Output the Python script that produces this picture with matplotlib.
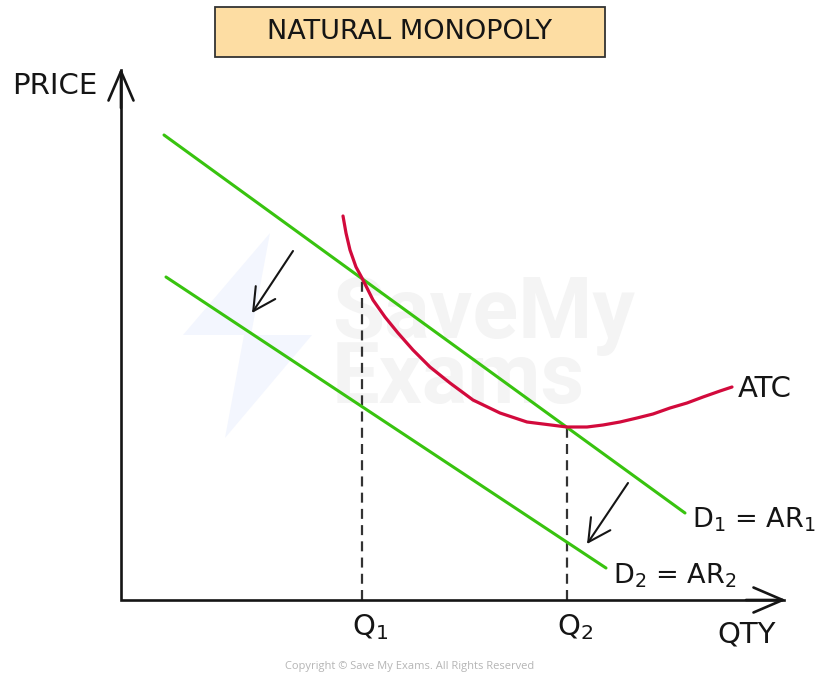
import matplotlib
matplotlib.use("Agg")
import matplotlib.pyplot as plt
from matplotlib.patches import Rectangle, Polygon

plt.rcParams['font.family'] = ['DejaVu Sans']
plt.rcParams['mathtext.default'] = 'regular'

# ---- data (arbitrary units; origin at the axes corner) ----
title = "NATURAL MONOPOLY"
x_label = "QTY"
y_label = "PRICE"
axis_x_end = 665
axis_y_end = 532

d1_x = [43, 564]
d1_y = [465, 87]
d2_x = [45, 485]
d2_y = [323, 32]

atc_x = [222, 225, 229, 235, 241, 252, 264, 277, 292, 309, 329, 352, 379, 406,
         422, 446, 466, 482, 499, 516, 532, 549, 566, 582, 599, 611]
atc_y = [384, 367, 350, 333, 322, 300, 283, 267, 250, 233, 217, 200, 187, 178,
         176, 173, 173, 175, 178, 182, 186, 192, 197, 203, 209, 213]

q_values = [241, 446]
q_prices = [322, 173]
q_labels = ["Q$_1$", "Q$_2$"]

shift_arrows = [((172, 349), (131, 287)), ((507, 117), (466, 56))]

d1_label = "D$_1$ = AR$_1$"
d2_label = "D$_2$ = AR$_2$"
atc_label = "ATC"
copyright_text = "Copyright \u00a9 Save My Exams. All Rights Reserved"
watermark = "SaveMy\nExams"

GREEN = '#38c30f'
RED = '#d20a3c'
INK = '#151515'

fig = plt.figure(figsize=(8.17, 6.75), dpi=100)
ax = fig.add_axes([0, 0, 1, 1])
ax.set_xlim(-121, 696)
ax.set_ylim(-75, 600)
ax.axis('off')

# watermark (faint), drawn beneath everything
W, H = 817, 675
bolt_parts = [[(270, 233), (183, 335), (251, 335)],
              [(244, 335), (312, 335), (225, 438)]]
for part in bolt_parts:
    ax.add_patch(Polygon([(x / W, 1 - y / H) for x, y in part], closed=True,
                         transform=fig.transFigure, facecolor='#f3f6fe',
                         edgecolor='none', zorder=0))
ax.text(211, 197, watermark, fontsize=61, fontweight='bold', color='#f4f4f4',
        family=['Roboto', 'DejaVu Sans'], ha='left', va='baseline',
        linespacing=0.73, zorder=0)

# axes
ax.plot([0, 0, axis_x_end - 2], [axis_y_end - 2, 0, 0], color=INK, lw=1.9,
        solid_joinstyle='miter', zorder=3)
arrow_kw = dict(arrowstyle='->,head_length=1.05,head_width=0.45', lw=1.9,
                color=INK, mutation_scale=20, shrinkA=0, shrinkB=0)
ax.annotate('', xy=(0, axis_y_end), xytext=(0, axis_y_end - 40), arrowprops=arrow_kw, zorder=3)
ax.annotate('', xy=(axis_x_end, 0), xytext=(axis_x_end - 40, 0), arrowprops=arrow_kw, zorder=3)

# dashed lines
for q, p in zip(q_values, q_prices):
    ax.plot([q, q], [0, p], color='#333333', lw=1.6, dashes=(4.5, 2.8), zorder=2)

# demand curves
ax.plot(d1_x, d1_y, color=GREEN, lw=2.2, solid_capstyle='round', zorder=4)
ax.plot(d2_x, d2_y, color=GREEN, lw=2.2, solid_capstyle='round', zorder=4)

# ATC
ax.plot(atc_x, atc_y, color=RED, lw=2.3, solid_capstyle='round',
        solid_joinstyle='round', zorder=5)

# shift arrows
sh_kw = dict(arrowstyle='->,head_length=0.8,head_width=0.42', lw=1.5,
             color=INK, mutation_scale=20, shrinkA=0, shrinkB=0)
for tail, tip in shift_arrows:
    ax.annotate('', xy=tip, xytext=tail, arrowprops=sh_kw, zorder=6)

# labels
fs = 21
ax.text(-109, 506, y_label, fontsize=fs, ha='left', va='baseline', color=INK)
ax.text(596, -43, x_label, fontsize=fs, ha='left', va='baseline', color=INK)
for q, lab in zip(q_values, q_labels):
    ax.text(q - 10, -35, lab, fontsize=fs, ha='left', va='baseline', color=INK)
ax.text(617, 203, atc_label, fontsize=fs, ha='left', va='baseline', color=INK)
ax.text(571, 72, d1_label, fontsize=19.5, ha='left', va='baseline', color=INK)
ax.text(492, 17, d2_label, fontsize=19.5, ha='left', va='baseline', color=INK)

# title box
fig.patches.append(Rectangle((215 / W, 1 - 57 / H), 390 / W, 50 / H,
                             transform=fig.transFigure, facecolor='#fddda3',
                             edgecolor='#333333', lw=1.3, zorder=1))
fig.text(410 / W, 1 - 32 / H, title, fontsize=19.5, ha='center', va='center',
         color=INK, zorder=2)

# copyright
fig.text(410 / W, 1 - 666 / H, copyright_text, fontsize=8, ha='center',
         va='center', color='#b5b5b5', family=['Open Sans', 'DejaVu Sans'])

fig.savefig('out.png', dpi=100)
